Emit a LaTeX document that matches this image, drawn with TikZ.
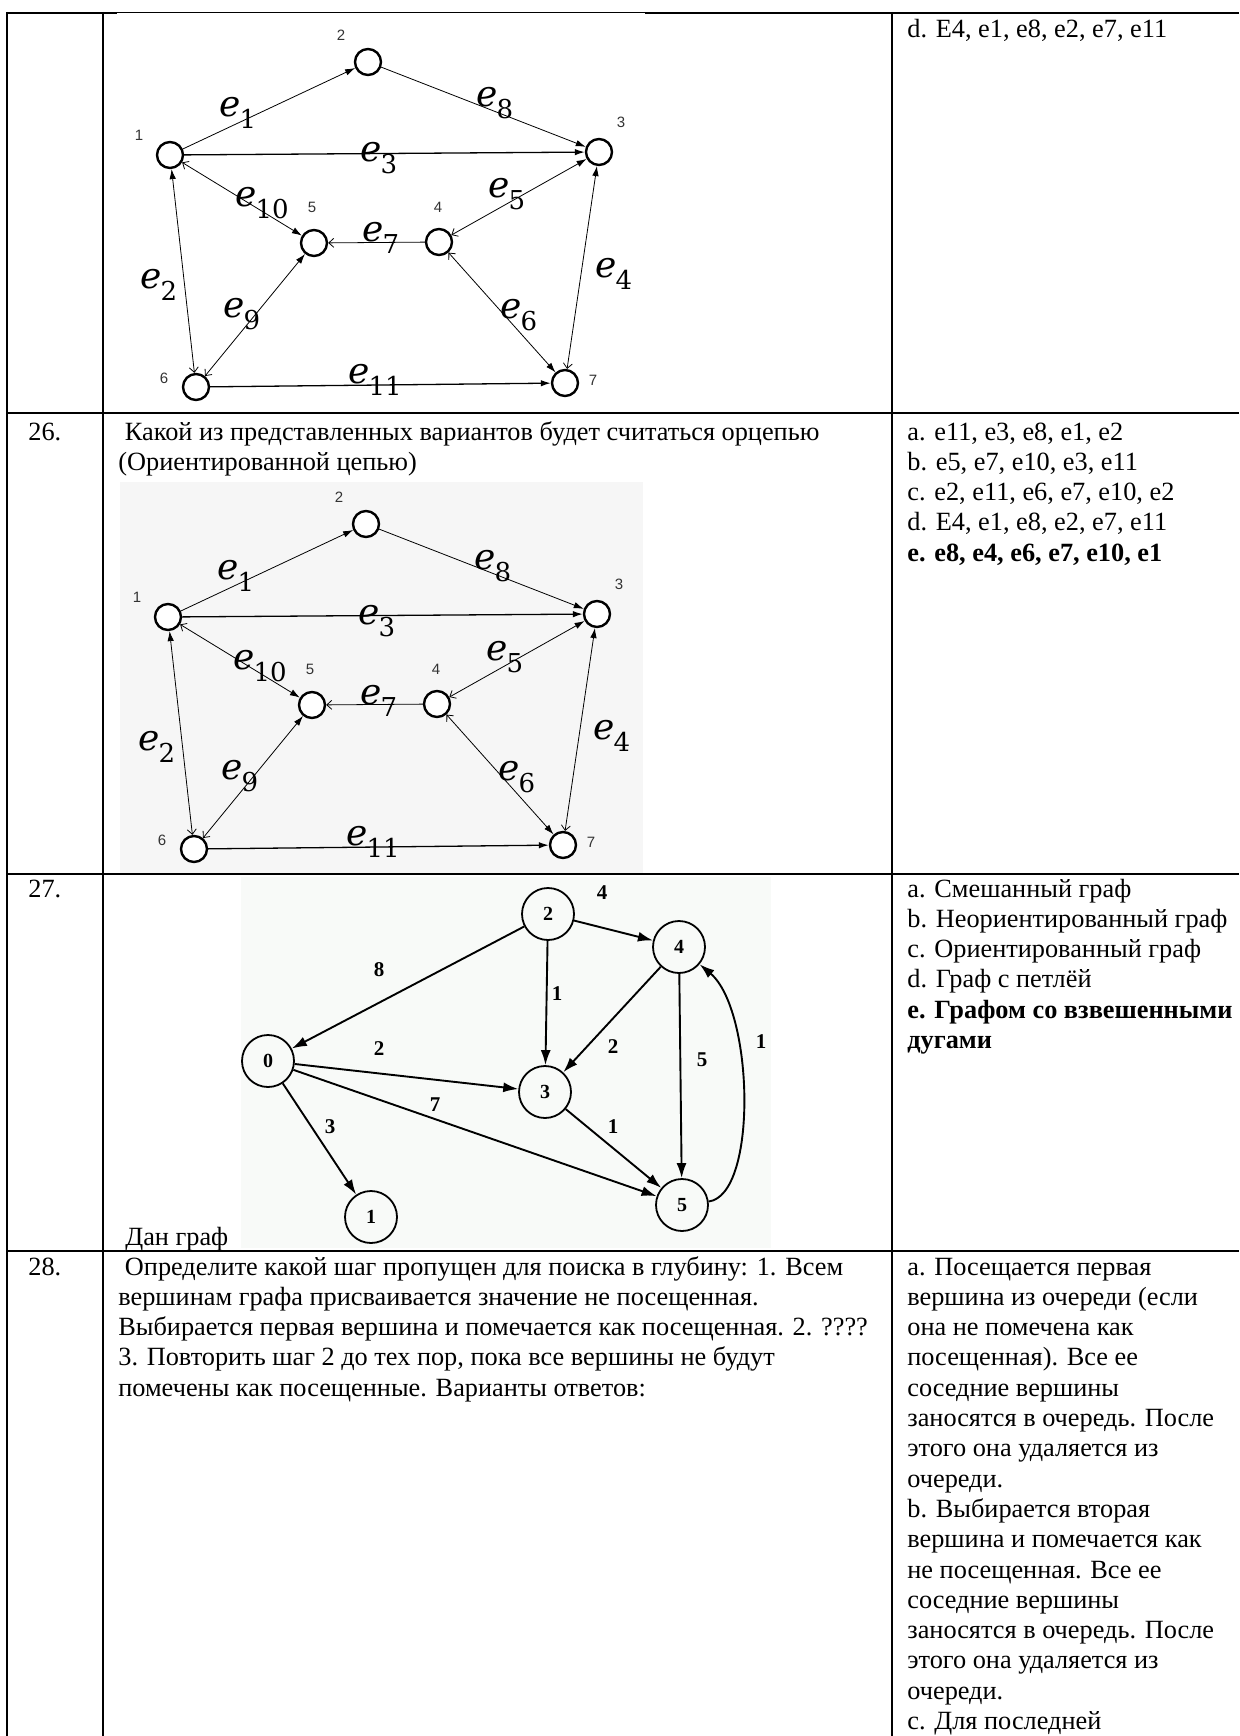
\documentclass[tikz,border=0pt]{standalone}
\usepackage{fontspec}
\setmainfont{Liberation Serif}
\setsansfont{Liberation Sans}
\newfontfamily\efont{DejaVu Serif}
\usetikzlibrary{arrows.meta}

\definecolor{shotgray}{RGB}{246,246,246}
\definecolor{shotpale}{RGB}{248,250,248}

% edge name e with its number below right
\newcommand\elab[1]{{\efont\fontsize{36}{36}\selectfont\itshape e}\kern-1pt\raisebox{-12pt}{\efont\fontsize{26}{26}\selectfont #1}}

\tikzset{every picture/.style={line width=0.75pt}}
\tikzset{
  Fa/.tip={Latex[length=10pt,width=6.5pt]},
  Oa/.tip={Straight Barb[length=5pt,width=9pt,line width=0.8pt]},
  Wa/.tip={Latex[length=15pt,width=10pt]},
  rule/.style={line width=2pt},
  vtx/.style={circle, draw, line width=2.4pt, fill=white, minimum size=26pt, inner sep=0pt},
  vlbl/.style={inner sep=0pt, text=black!80, font=\sffamily\fontsize{15}{15}\selectfont},
  elbl/.style={anchor=base west, inner sep=0pt},
  thinedge/.style={line width=0.8pt},
  midedge/.style={line width=1.3pt},
  wvtx/.style={circle, draw, line width=1.8pt, fill=shotpale, minimum size=52pt, inner sep=0pt, font=\bfseries\fontsize{20}{20}\selectfont},
  warc/.style={line width=1.9pt, -Wa},
  wlbl/.style={inner sep=0pt, font=\bfseries\fontsize{21}{21}\selectfont},
  txt/.style={anchor=base west, inner sep=0pt, font=\fontsize{26.3}{30.3}\selectfont},
}

% the graph with edges e1..e11, drawn twice
\newcommand\pentgraph{%
  %Shape: Circles
  \node[vtx] (n1) at (170,155) {};
  \node[vtx] (n2) at (368,62) {};
  \node[vtx] (n3) at (599,152) {};
  \node[vtx] (n4) at (439,242) {};
  \node[vtx] (n5) at (314,243) {};
  \node[vtx] (n6) at (196,387) {};
  \node[vtx] (n7) at (565,383) {};
  % Text Node
  \node[vlbl] (l1) at (139,135) {1};
  \node[vlbl] (l2) at (341,35) {2};
  \node[vlbl] (l3) at (621,122) {3};
  \node[vlbl] (l4) at (438,207) {4};
  \node[vlbl] (l5) at (312,207) {5};
  \node[vlbl] (l6) at (164,378) {6};
  \node[vlbl] (l7) at (593,380) {7};
  %Straight Lines
  \draw[thinedge, -Fa] (n1) -- (n2);
  \draw[thinedge, -Fa] (n2) -- (n3);
  \draw[midedge, -Fa] (n1) -- (n3);
  \draw[thinedge, Oa-Fa] (n1) -- (n5);
  \draw[thinedge, Oa-Fa] (n4) -- (n3);
  \draw[thinedge, -Oa] (n4) -- (n5);
  \draw[thinedge, Fa-Oa] (n1) -- (n6);
  \draw[thinedge, Fa-Oa] (n5) -- (n6);
  \draw[thinedge, Oa-Fa] (n4) -- (n7);
  \draw[thinedge, Fa-Oa] (n3) -- (n7);
  \draw[midedge, -Fa] (n6) -- (n7);
  % Text Node
  \node[elbl] (e1) at (219,117) {\elab{1}};
  \node[elbl] (e8) at (476,107) {\elab{8}};
  \node[elbl] (e3) at (360,162) {\elab{3}};
  \node[elbl] (e10) at (235,207) {\elab{10}};
  \node[elbl] (e5) at (488,198) {\elab{5}};
  \node[elbl] (e7) at (362,242) {\elab{7}};
  \node[elbl] (e2) at (140,288) {\elab{2}};
  \node[elbl] (e9) at (223,317) {\elab{9}};
  \node[elbl] (e6) at (500,318) {\elab{6}};
  \node[elbl] (e11) at (348,383) {\elab{11}};
  \node[elbl] (e4) at (595,277) {\elab{4}};
}

\begin{document}
\begin{tikzpicture}[x=1pt,y=1pt,yscale=-1,xscale=1]
\useasboundingbox (0,0) rectangle (1239,1736);

%Shape: Rectangles behind the pictures
\fill[shotgray] (120,482) rectangle (643,873);
\fill[shotpale] (241,877) rectangle (771,1248);

%Straight Lines: table rules
\draw[rule] (7,13) -- (117,13);
\draw[line width=1pt] (117,13) -- (645,13);
\draw[rule] (645,13) -- (1239,13);
\draw[rule] (7,12) -- (7,1736);
\draw[rule] (103,12) -- (103,1736);
\draw[rule] (892,12) -- (892,1736);
\draw[rule] (6,413) -- (1239,413);
\draw[rule] (6,874) -- (1239,874);
\draw[rule] (6,1251) -- (1239,1251);

% row 25 (end)
\begin{scope}[name prefix=ga-]
\pentgraph
\end{scope}
\node[txt] (a25) at (907,38) {d. E4, e1, e8, e2, e7, e11};

% row 26
\node[txt] (r26) at (28,440) {26.};
\foreach \t [count=\i from 0] in {{\ Какой из представленных вариантов будет считаться орцепью},{(Ориентированной цепью)}}
  \node[txt] (q26-\i) at (118,440+30.3*\i) {\t};
\begin{scope}[shift={(-2,462)}, name prefix=gb-]
\pentgraph
\end{scope}
\foreach \t [count=\i from 0] in {{a. e11, e3, e8, e1, e2},{b. e5, e7, e10, e3, e11},{c. e2, e11, e6, e7, e10, e2},{d. E4, e1, e8, e2, e7, e11},{\textbf{e. e8, e4, e6, e7, e10, e1}}}
  \node[txt] (a26-\i) at (907,440+30.3*\i) {\t};

% row 27
\node[txt] (r27) at (28,897) {27.};
\node[txt] (dan) at (125,1245) {Дан граф};
\node[wvtx] (w0) at (268,1061) {0};
\node[wvtx] (w1) at (371,1217) {1};
\node[wvtx] (w2) at (548,914) {2};
\node[wvtx] (w3) at (545,1092) {3};
\node[wvtx] (w4) at (679,947) {4};
\node[wvtx] (w5) at (682,1205) {5};
\draw[warc] (w2) -- (w4);
\draw[warc] (w2) -- (w0);
\draw[warc] (w2) -- (w3);
\draw[warc] (w4) -- (w3);
\draw[warc] (w4) -- (w5);
\draw[warc] (w5) .. controls (758,1195) and (754,1010) .. (w4);
\draw[warc] (w0) -- (w3);
\draw[warc] (w0) -- (w5);
\draw[warc] (w0) -- (w1);
\draw[warc] (w3) -- (w5);
\node[wlbl] (k24) at (602,893) {4};
\node[wlbl] (k20) at (379,970) {8};
\node[wlbl] (k23) at (557,994) {1};
\node[wlbl] (k43) at (613,1047) {2};
\node[wlbl] (k45) at (702,1060) {5};
\node[wlbl] (k54) at (761,1042) {1};
\node[wlbl] (k03) at (379,1049) {2};
\node[wlbl] (k05) at (435,1105) {7};
\node[wlbl] (k01) at (330,1127) {3};
\node[wlbl] (k35) at (613,1127) {1};
\foreach \t [count=\i from 0] in {{a. Смешанный граф},{b. Неориентированный граф},{c. Ориентированный граф},{d. Граф с петлёй},{\textbf{e. Графом со взвешенными}},{\textbf{дугами}}}
  \node[txt] (a27-\i) at (907,897+30.3*\i) {\t};

% row 28
\node[txt] (r28) at (28,1275) {28.};
\foreach \t [count=\i from 0] in {{\ Определите какой шаг пропущен для поиска в глубину: 1. Всем},{вершинам графа присваивается значение не посещенная.},{Выбирается первая вершина и помечается как посещенная. 2. ????},{3. Повторить шаг 2 до тех пор, пока все вершины не будут},{помечены как посещенные. Варианты ответов:}}
  \node[txt] (q28-\i) at (118,1275+30.3*\i) {\t};
\foreach \t [count=\i from 0] in {{а. Посещается первая},{вершина из очереди (если},{она не помечена как},{посещенная). Все ее},{соседние вершины},{заносятся в очередь. После},{этого она удаляется из},{очереди.},{b. Выбирается вторая},{вершина и помечается как},{не посещенная. Все ее},{соседние вершины},{заносятся в очередь. После},{этого она удаляется из},{очереди.},{с. Для последней}}
  \node[txt] (a28-\i) at (907,1275+30.3*\i) {\t};

\end{tikzpicture}
\end{document}
